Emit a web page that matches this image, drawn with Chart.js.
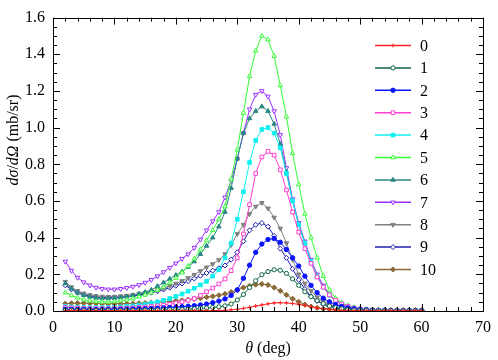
<!DOCTYPE html>
<html>
<head>
<meta charset="utf-8">
<script src="https://cdn.jsdelivr.net/npm/chart.js@4/dist/chart.umd.min.js"></script>
<style>
  body { margin: 0; background: #fff; }
  #wrap { width: 498px; height: 360px; }
</style>
</head>
<body>
<div id="wrap"><canvas id="xsec" width="498" height="360"></canvas></div>
<script>
// scattering angles (deg)
const theta = [2, 3, 4, 5, 6, 7, 8, 9, 10, 11, 12, 13, 14, 15, 16, 17, 18, 19, 20, 21,
  22, 23, 24, 25, 26, 27, 28, 29, 30, 31, 32, 33, 34, 35, 36, 37, 38, 39, 40, 41,
  42, 43, 44, 45, 46, 47, 48, 49, 50, 51, 52, 53, 54, 55, 56, 57, 58, 59, 60];

const seriesNames = ["0", "1", "2", "3", "4", "5", "6", "7", "8", "9", "10"];

// dsigma/dOmega (mb/sr), one array per curve
const s0 = [0.002, 0.002, 0.002, 0.002, 0.002, 0.002, 0.002, 0.002, 0.002, 0.002, 0.002, 0.002, 0.002, 0.002, 0.002, 0.002, 0.002, 0.002, 0.002, 0.002,
  0.002, 0.002, 0.002, 0.002, 0.002, 0.003, 0.004, 0.006, 0.009, 0.014, 0.02, 0.027, 0.033, 0.039, 0.044, 0.045, 0.044, 0.041, 0.036, 0.03,
  0.023, 0.017, 0.012, 0.008, 0.005, 0.003, 0.002, 0.001, 0.001, 0.001, 0.001, 0.001, 0.001, 0.001, 0.001, 0.001, 0.001, 0.001, 0.001];
const s1 = [0.004, 0.004, 0.003, 0.003, 0.003, 0.003, 0.003, 0.003, 0.003, 0.003, 0.004, 0.004, 0.004, 0.005, 0.005, 0.006, 0.006, 0.007, 0.008, 0.009,
  0.01, 0.012, 0.014, 0.016, 0.019, 0.023, 0.028, 0.038, 0.06, 0.09, 0.128, 0.165, 0.198, 0.215, 0.225, 0.222, 0.205, 0.175, 0.14, 0.105,
  0.078, 0.056, 0.04, 0.027, 0.018, 0.012, 0.008, 0.005, 0.004, 0.003, 0.002, 0.002, 0.002, 0.001, 0.001, 0.001, 0.001, 0.001, 0.001];
const s2 = [0.01, 0.009, 0.008, 0.008, 0.008, 0.008, 0.008, 0.008, 0.009, 0.009, 0.01, 0.011, 0.012, 0.013, 0.014, 0.015, 0.017, 0.019, 0.021, 0.023,
  0.026, 0.029, 0.033, 0.038, 0.045, 0.054, 0.066, 0.085, 0.115, 0.178, 0.25, 0.32, 0.365, 0.39, 0.395, 0.375, 0.335, 0.29, 0.245, 0.19,
  0.14, 0.1, 0.07, 0.05, 0.035, 0.025, 0.017, 0.012, 0.008, 0.006, 0.004, 0.003, 0.003, 0.002, 0.002, 0.002, 0.002, 0.002, 0.002];
const s3 = [0.02, 0.017, 0.015, 0.014, 0.013, 0.013, 0.013, 0.013, 0.014, 0.015, 0.016, 0.018, 0.02, 0.022, 0.025, 0.028, 0.032, 0.037, 0.043, 0.05,
  0.058, 0.068, 0.085, 0.105, 0.125, 0.148, 0.175, 0.22, 0.29, 0.42, 0.58, 0.75, 0.84, 0.87, 0.85, 0.77, 0.66, 0.54, 0.43, 0.34,
  0.26, 0.185, 0.13, 0.088, 0.058, 0.038, 0.025, 0.016, 0.011, 0.007, 0.005, 0.004, 0.003, 0.002, 0.002, 0.002, 0.002, 0.002, 0.002];
const s4 = [0.025, 0.022, 0.02, 0.019, 0.018, 0.018, 0.018, 0.019, 0.02, 0.022, 0.025, 0.028, 0.032, 0.037, 0.043, 0.05, 0.058, 0.068, 0.08, 0.093,
  0.108, 0.124, 0.142, 0.162, 0.19, 0.225, 0.29, 0.37, 0.5, 0.65, 0.81, 0.93, 0.99, 1.0, 0.97, 0.89, 0.75, 0.6, 0.47, 0.37,
  0.27, 0.19, 0.13, 0.087, 0.057, 0.037, 0.024, 0.016, 0.011, 0.007, 0.005, 0.004, 0.003, 0.002, 0.002, 0.002, 0.002, 0.002, 0.002];
const s5 = [0.1, 0.085, 0.072, 0.062, 0.056, 0.052, 0.05, 0.05, 0.052, 0.056, 0.061, 0.068, 0.077, 0.088, 0.1, 0.115, 0.132, 0.155, 0.18, 0.21,
  0.245, 0.285, 0.335, 0.385, 0.44, 0.5, 0.57, 0.72, 0.88, 1.08, 1.28, 1.42, 1.5, 1.48, 1.39, 1.23, 1.06, 0.86, 0.69, 0.53,
  0.4, 0.29, 0.19, 0.115, 0.07, 0.045, 0.03, 0.02, 0.013, 0.009, 0.006, 0.004, 0.003, 0.002, 0.002, 0.002, 0.002, 0.002, 0.002];
const s6 = [0.15, 0.122, 0.1, 0.086, 0.077, 0.071, 0.068, 0.068, 0.07, 0.073, 0.078, 0.085, 0.093, 0.103, 0.115, 0.135, 0.155, 0.175, 0.195, 0.215,
  0.24, 0.27, 0.31, 0.355, 0.4, 0.46, 0.54, 0.67, 0.83, 0.97, 1.05, 1.09, 1.115, 1.09, 1.02, 0.91, 0.76, 0.6, 0.47, 0.37,
  0.27, 0.19, 0.13, 0.085, 0.055, 0.035, 0.022, 0.014, 0.009, 0.006, 0.004, 0.003, 0.002, 0.002, 0.002, 0.002, 0.002, 0.002, 0.002];
const s7 = [0.27, 0.22, 0.182, 0.157, 0.14, 0.128, 0.121, 0.118, 0.118, 0.121, 0.126, 0.133, 0.142, 0.155, 0.17, 0.19, 0.212, 0.236, 0.26, 0.285,
  0.31, 0.345, 0.39, 0.44, 0.49, 0.54, 0.62, 0.71, 0.83, 0.97, 1.1, 1.18, 1.2, 1.17, 1.09, 0.96, 0.78, 0.61, 0.48, 0.38,
  0.28, 0.2, 0.14, 0.09, 0.06, 0.04, 0.026, 0.017, 0.011, 0.007, 0.005, 0.004, 0.003, 0.002, 0.002, 0.002, 0.002, 0.002, 0.002];
const s8 = [0.16, 0.13, 0.11, 0.096, 0.087, 0.082, 0.079, 0.078, 0.079, 0.081, 0.084, 0.088, 0.093, 0.099, 0.106, 0.115, 0.125, 0.137, 0.15, 0.164,
  0.18, 0.198, 0.218, 0.238, 0.256, 0.278, 0.31, 0.36, 0.42, 0.47, 0.53, 0.57, 0.59, 0.56, 0.51, 0.45, 0.37, 0.28, 0.2, 0.15,
  0.11, 0.075, 0.05, 0.035, 0.025, 0.017, 0.012, 0.009, 0.006, 0.005, 0.004, 0.003, 0.003, 0.003, 0.002, 0.002, 0.002, 0.002, 0.002];
const s9 = [0.14, 0.118, 0.1, 0.089, 0.081, 0.076, 0.073, 0.072, 0.073, 0.075, 0.078, 0.082, 0.087, 0.093, 0.1, 0.108, 0.117, 0.127, 0.138, 0.15,
  0.163, 0.177, 0.192, 0.207, 0.22, 0.233, 0.248, 0.28, 0.32, 0.38, 0.44, 0.47, 0.48, 0.46, 0.41, 0.34, 0.29, 0.23, 0.17, 0.12,
  0.08, 0.055, 0.037, 0.026, 0.018, 0.013, 0.009, 0.007, 0.005, 0.004, 0.003, 0.003, 0.003, 0.002, 0.002, 0.002, 0.002, 0.002, 0.002];
const s10 = [0.04, 0.042, 0.043, 0.043, 0.042, 0.041, 0.04, 0.04, 0.04, 0.04, 0.04, 0.041, 0.042, 0.043, 0.045, 0.047, 0.05, 0.052, 0.055, 0.058,
  0.062, 0.066, 0.07, 0.075, 0.08, 0.086, 0.093, 0.103, 0.115, 0.128, 0.137, 0.144, 0.147, 0.142, 0.128, 0.11, 0.088, 0.067, 0.05, 0.035,
  0.024, 0.017, 0.012, 0.01, 0.008, 0.007, 0.006, 0.005, 0.005, 0.005, 0.005, 0.005, 0.005, 0.005, 0.005, 0.005, 0.005, 0.005, 0.005];

const xTicks = [0, 10, 20, 30, 40, 50, 60, 70];
const yTicks = [0.0, 0.2, 0.4, 0.6, 0.8, 1.0, 1.2, 1.4, 1.6];

const allSeries = [s0, s1, s2, s3, s4, s5, s6, s7, s8, s9, s10];

// look of each curve: colour, marker, filled or open
const styles = [
  { color: "#ff2020", marker: "cross", filled: true, rot: 0, r: 2 },
  { color: "#0d6640", marker: "circle", filled: false, rot: 0, r: 2.1 },
  { color: "#0a14ff", marker: "circle", filled: true, rot: 0, r: 2.2 },
  { color: "#ff40d0", marker: "rect", filled: false, rot: 0, r: 2.6 },
  { color: "#10f0f0", marker: "rect", filled: true, rot: 0, r: 2.6 },
  { color: "#33ff33", marker: "triangle", filled: false, rot: 0, r: 2.6 },
  { color: "#2a8585", marker: "triangle", filled: true, rot: 0, r: 2.6 },
  { color: "#9a30ff", marker: "triangle", filled: false, rot: 180, r: 2.6 },
  { color: "#808080", marker: "triangle", filled: true, rot: 180, r: 2.6 },
  { color: "#2020b0", marker: "rectRot", filled: false, rot: 0, r: 2.5 },
  { color: "#8b6a3a", marker: "rectRot", filled: true, rot: 0, r: 2.6 }
];

const serif = "'Liberation Serif', 'DejaVu Serif', serif";

function buildDatasets() {
    return allSeries.map((vals, i) => {
        const st = styles[i];
        return {
            label: seriesNames[i],
            data: theta.map((t, k) => ({ x: t, y: vals[k] })),
            borderColor: st.color,
            backgroundColor: st.color,
            borderWidth: 1,
            pointStyle: st.marker,
            pointRotation: st.rot,
            pointRadius: st.r,
            pointBorderWidth: 1,
            pointBorderColor: st.color,
            pointBackgroundColor: st.filled ? st.color : "#ffffff",
            tension: 0,
            fill: false
        };
    });
}

// draws text runs with mixed italic / roman fonts
function drawRuns(ctx, runs, x, y, size, align) {
    let total = 0;
    runs.forEach(r => {
        ctx.font = (r.it ? "italic " : "") + size + "px " + serif;
        r.w = ctx.measureText(r.t).width;
        total += r.w;
    });
    let cx = align === "center" ? x - total / 2 : x;
    runs.forEach(r => {
        ctx.font = (r.it ? "italic " : "") + size + "px " + serif;
        ctx.fillText(r.t, cx, y);
        cx += r.w;
    });
}

// frame, inward ticks, axis titles and the legend inside the plot
const framePlugin = {
    id: "frame",
    afterDraw(chart) {
        const ctx = chart.ctx;
        const a = chart.chartArea;
        const xs = chart.scales.x, ys = chart.scales.y;
        ctx.save();
        ctx.strokeStyle = "#000";
        ctx.lineWidth = 1;
        ctx.strokeRect(Math.round(a.left) + 0.5, Math.round(a.top) + 0.5,
            Math.round(a.right - a.left), Math.round(a.bottom - a.top));

        ctx.beginPath();
        for (let v = 0; v <= 70; v += 2) {
            const px = Math.round(xs.getPixelForValue(v)) + 0.5;
            const len = v % 10 === 0 ? 7 : 4;
            ctx.moveTo(px, a.bottom); ctx.lineTo(px, a.bottom - len);
            ctx.moveTo(px, a.top); ctx.lineTo(px, a.top + len);
        }
        for (let k = 0; k <= 32; k++) {
            const v = k * 0.05;
            const py = Math.round(ys.getPixelForValue(v)) + 0.5;
            const len = k % 4 === 0 ? 7 : 4;
            ctx.moveTo(a.left, py); ctx.lineTo(a.left + len, py);
            ctx.moveTo(a.right, py); ctx.lineTo(a.right - len, py);
        }
        ctx.stroke();

        // axis titles
        ctx.fillStyle = "#000";
        ctx.textBaseline = "middle";
        ctx.textAlign = "left";
        drawRuns(ctx, [{ t: "\u03b8", it: true }, { t: " (deg)", it: false }],
            (a.left + a.right) / 2, 349, 16, "center");
        ctx.save();
        ctx.translate(14, 140);
        ctx.rotate(-Math.PI / 2);
        drawRuns(ctx, [{ t: "d\u03c3", it: true }, { t: "/", it: false },
            { t: "d\u03a9", it: true }, { t: " (mb/sr)", it: false }], 0, 0, 16, "center");
        ctx.restore();

        // legend
        const lx0 = 375, lx1 = 411, ly0 = 45.5, dy = 22.4;
        chart.data.datasets.forEach((ds, i) => {
            const y = ly0 + i * dy;
            ctx.strokeStyle = ds.borderColor;
            ctx.lineWidth = 1.5;
            ctx.beginPath();
            ctx.moveTo(lx0, y); ctx.lineTo(lx1, y);
            ctx.stroke();
            ctx.fillStyle = ds.pointBackgroundColor;
            ctx.strokeStyle = ds.pointBorderColor;
            ctx.lineWidth = 1;
            Chart.helpers.drawPoint(ctx, {
                pointStyle: ds.pointStyle,
                rotation: ds.pointRotation,
                radius: ds.pointRadius,
                borderWidth: 1
            }, (lx0 + lx1) / 2, y);
            ctx.fillStyle = "#000";
            ctx.font = "16px " + serif;
            ctx.textAlign = "left";
            ctx.fillText(ds.label, 420, y + 1);
        });
        ctx.restore();
    }
};

function setupChart() {
    const canvas = document.getElementById("xsec");
    const ctx = canvas.getContext("2d");
    new Chart(ctx, {
        type: "line",
        data: { datasets: buildDatasets() },
        options: {
            responsive: false,
            animation: false,
            devicePixelRatio: 1,
            layout: { padding: { top: 9, right: 11, left: 0, bottom: 0 } },
            plugins: {
                legend: { display: false },
                tooltip: { enabled: false }
            },
            scales: {
                x: {
                    type: "linear",
                    min: 0,
                    max: 70,
                    afterFit: s => { s.height = 49; },
                    afterBuildTicks: s => { s.ticks = xTicks.map(v => ({ value: v })); },
                    ticks: {
                        color: "#000",
                        font: { family: serif, size: 16 },
                        padding: 7,
                        maxRotation: 0
                    },
                    grid: { display: false, drawTicks: false },
                    border: { display: false }
                },
                y: {
                    type: "linear",
                    min: 0,
                    max: 1.6,
                    afterFit: s => { s.width = 53; },
                    afterBuildTicks: s => { s.ticks = yTicks.map(v => ({ value: v })); },
                    ticks: {
                        color: "#000",
                        font: { family: serif, size: 16 },
                        padding: 8,
                        callback: v => Number(v).toFixed(1)
                    },
                    grid: { display: false, drawTicks: false },
                    border: { display: false }
                }
            }
        },
        plugins: [framePlugin]
    });
}

document.addEventListener("DOMContentLoaded", setupChart);
</script>
</body>
</html>
